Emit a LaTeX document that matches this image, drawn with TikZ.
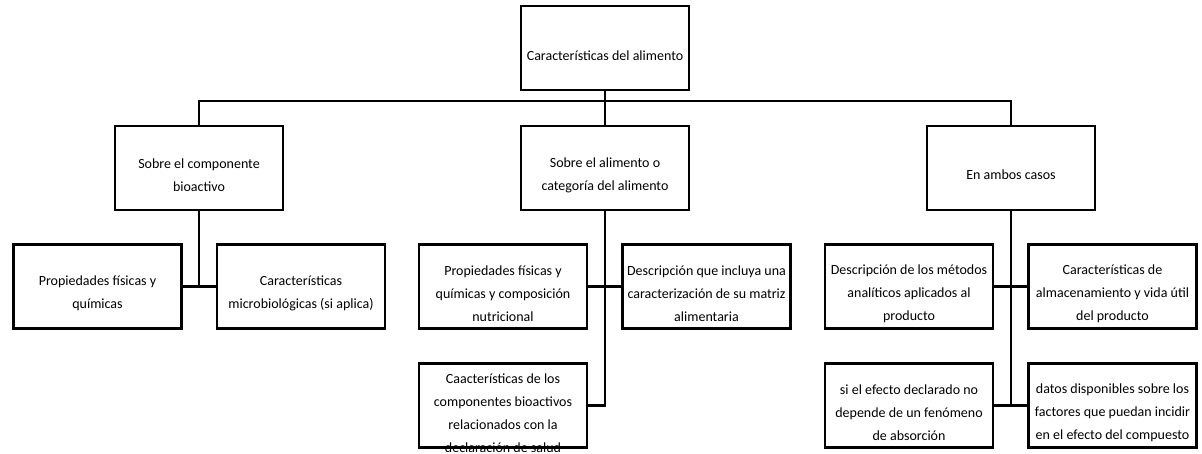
\documentclass[tikz,border=0pt]{standalone}
\usepackage{fontspec}
\setmainfont{Carlito}
\begin{document}
\begin{tikzpicture}[x=1pt,y=-1pt,
 box/.style={draw, line width=2.8pt, minimum width=168pt, minimum height=84pt, inner sep=0pt},
 txt/.style={align=center, font=\fontsize{14}{23}\selectfont, inner sep=0pt},
 conn/.style={line width=2.8pt}]
\useasboundingbox[fill=white] (0,0) rectangle (1202,454);
% boxes
\node[box] (top) at (605,48) {};
\node[box] (b1) at (199,168) {};
\node[box] (b2) at (605,168) {};
\node[box] (b3) at (1011,168) {};
\node[box] (c1) at (97.5,286.5) {};
\node[box] (c2) at (301,286.5) {};
\node[box] (c3) at (503,286.5) {};
\node[box] (c4) at (706.5,286.5) {};
\node[box] (c5) at (909,286.5) {};
\node[box] (c6) at (1112.5,286.5) {};
\node[box] (d1) at (503,405.5) {};
\node[box] (d2) at (909,405.5) {};
\node[box] (d3) at (1112.5,405.5) {};
% connectors
\coordinate (bus) at (605,101);
\draw[conn] (top.south) -- (top.south |- bus);
\draw[conn] (b1.north) -- (b1.north |- bus) -- (b3.north |- bus) -- (b3.north);
\draw[conn] (b2.north) -- (b2.north |- bus);
\draw[conn] (b1.south) -- (b1.south |- c1.east);
\draw[conn] (c1.east) -- (c2.west);
\draw[conn] (b2.south) -- (b2.south |- d1.east) -- (d1.east);
\draw[conn] (c3.east) -- (c4.west);
\draw[conn] (b3.south) -- (b3.south |- d2.east);
\draw[conn] (c5.east) -- (c6.west);
\draw[conn] (d2.east) -- (d3.west);
% texts
\node[txt] (topT) at ([yshift=-8pt]top.center) {Características del alimento};
\node[txt] (b1T) at ([yshift=-7pt]b1.center) {Sobre el componente\\bioactivo};
\node[txt] (b2T) at ([yshift=-7pt]b2.center) {Sobre el alimento o\\categoría del alimento};
\node[txt] (b3T) at ([yshift=-7pt]b3.center) {En ambos casos};
\node[txt] (c1T) at ([yshift=-7pt]c1.center) {Propiedades físicas y\\químicas};
\node[txt] (c2T) at ([yshift=-7pt]c2.center) {Características\\microbiológicas (si aplica)};
\node[txt] (c3T) at ([yshift=-7pt]c3.center) {Propiedades físicas y\\químicas y composición\\nutricional};
\node[txt] (c4T) at ([yshift=-7pt]c4.center) {Descripción que incluya una\\caracterización de su matriz\\alimentaria};
\node[txt] (c5T) at ([yshift=-7pt]c5.center) {Descripción de los métodos\\analíticos aplicados al\\producto};
\node[txt] (c6T) at ([yshift=-7pt]c6.center) {Características de\\almacenamiento y vida útil\\del producto};
\node[txt] (d1T) at ([yshift=-7.5pt]d1.center) {Caacterísticas de los\\componentes bioactivos\\relacionados con la\\declaración de salud};
\node[txt] (d2T) at ([yshift=-7pt]d2.center) {si el efecto declarado no\\depende de un fenómeno\\de absorción};
\node[txt] (d3T) at ([yshift=-7pt]d3.center) {datos disponibles sobre los\\factores que puedan incidir\\en el efecto del compuesto};
\end{tikzpicture}
\end{document}
